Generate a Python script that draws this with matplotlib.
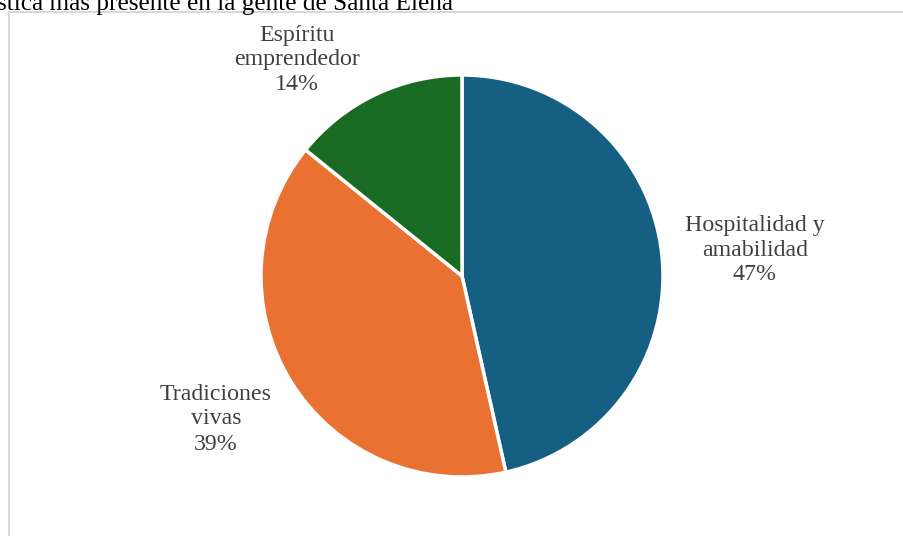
import matplotlib
matplotlib.use("Agg")
from matplotlib import pyplot as plt
from matplotlib.patches import Rectangle

# data
categories = ["Hospitalidad y\namabilidad", "Tradiciones\nvivas", "Espíritu\nemprendedor"]
shares = [46.5, 39.3, 14.2]
pct_labels = ["47%", "39%", "14%"]
colors = ["#156082", "#E97132", "#196B24"]
title = "stica más presente en la gente de Santa Elena"

# label centres (pixels from top-left)
label_pos = [(755, 250), (216, 419), (297, 60)]

W, H = 904, 536
fig = plt.figure(figsize=(W / 100, H / 100), dpi=100)
ax = fig.add_axes([0, 0, 1, 1])

serif = ["Liberation Serif", "DejaVu Serif"]

# chart frame (cut off at right and bottom)
ax.add_patch(Rectangle((9, -10), W + 20, H - 12 + 10, fill=False,
                       edgecolor="#D9D9D9", linewidth=1.5))

ax.pie(shares, colors=colors, startangle=90, counterclock=False,
       center=(462, H - 276), radius=201, frame=True,
       wedgeprops=dict(edgecolor="white", linewidth=2.5))
ax.set_xlim(0, W)
ax.set_ylim(0, H)
ax.axis("off")

for cat, pct, (x, y) in zip(categories, pct_labels, label_pos):
    ax.text(x, H - y, f"{cat}\n{pct}", ha="center", va="center",
            fontsize=17.2, color="#404040", family=serif, linespacing=1.25)

ax.text(-3, H - 10, title, ha="left", va="baseline", fontsize=18.2,
        color="black", family=serif)

fig.savefig("out.png", dpi=100)
